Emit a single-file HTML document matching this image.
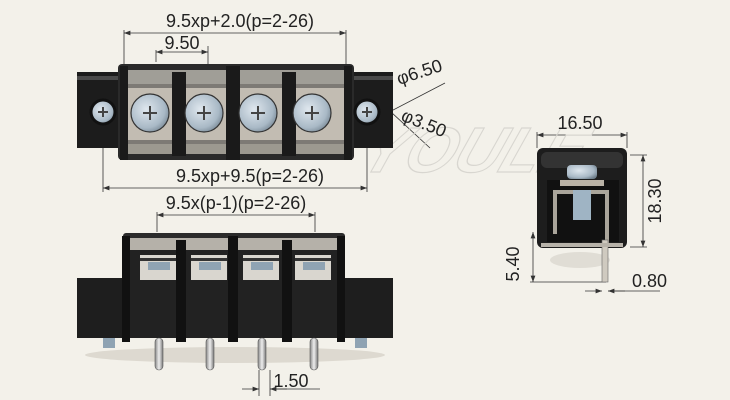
<!DOCTYPE html>
<html><head><meta charset="utf-8"><style>
html,body{margin:0;padding:0;background:#f3f1ea;}
svg{display:block;font-family:"Liberation Sans",sans-serif;}
</style></head><body>
<svg width="730" height="400" viewBox="0 0 730 400" xmlns="http://www.w3.org/2000/svg">
<defs>
<marker id="a" markerWidth="8" markerHeight="6" refX="8" refY="3" orient="auto-start-reverse"><path d="M0,0 L8,3 L0,6 Z" fill="#333"/></marker>
<radialGradient id="sc" cx="0.4" cy="0.4" r="0.7"><stop offset="0" stop-color="#dfe7ee"/><stop offset="0.7" stop-color="#a9b9c6"/><stop offset="1" stop-color="#6f7f8c"/></radialGradient>
<linearGradient id="pin" x1="0" x2="1"><stop offset="0" stop-color="#888"/><stop offset="0.5" stop-color="#eee"/><stop offset="1" stop-color="#777"/></linearGradient>
</defs>
<rect width="730" height="400" fill="#f3f1ea"/>
<g stroke="#333" stroke-width="0.8" fill="none">
<!-- top view dims -->
<line x1="124" y1="33" x2="346" y2="33" marker-start="url(#a)" marker-end="url(#a)"/>
<line x1="124" y1="30" x2="124" y2="64"/><line x1="346" y1="30" x2="346" y2="64"/>
<line x1="156" y1="52" x2="208" y2="52" marker-start="url(#a)" marker-end="url(#a)"/>
<line x1="156" y1="50" x2="156" y2="62"/><line x1="208" y1="46" x2="208" y2="64"/>
<line x1="103" y1="188" x2="367" y2="188" marker-start="url(#a)" marker-end="url(#a)"/>
<line x1="103" y1="130" x2="103" y2="192"/><line x1="367" y1="130" x2="367" y2="192"/>
<line x1="370" y1="122" x2="445" y2="83"/>
<line x1="378" y1="100" x2="430" y2="148"/>
<!-- front dims -->
<line x1="157" y1="215" x2="315" y2="215" marker-start="url(#a)" marker-end="url(#a)"/>
<line x1="157" y1="212" x2="157" y2="232"/><line x1="315" y1="212" x2="315" y2="232"/>
<line x1="242" y1="389" x2="259" y2="389" marker-end="url(#a)"/>
<line x1="287" y1="389" x2="270" y2="389" marker-end="url(#a)"/>
<line x1="259" y1="370" x2="259" y2="396"/><line x1="270" y1="370" x2="270" y2="396"/>
<line x1="270" y1="389" x2="320" y2="389"/>
<!-- side dims -->
<line x1="537" y1="135" x2="627" y2="135" marker-start="url(#a)" marker-end="url(#a)"/>
<line x1="537" y1="132" x2="537" y2="148"/><line x1="627" y1="132" x2="627" y2="148"/>
<line x1="643" y1="155" x2="643" y2="247" marker-start="url(#a)" marker-end="url(#a)"/>
<line x1="630" y1="155" x2="647" y2="155"/><line x1="630" y1="247" x2="647" y2="247"/>
<line x1="533" y1="232" x2="533" y2="282" marker-start="url(#a)" marker-end="url(#a)"/>
<line x1="530" y1="282" x2="606" y2="282"/>
<line x1="585" y1="291" x2="602" y2="291" marker-end="url(#a)"/>
<line x1="625" y1="291" x2="608" y2="291" marker-end="url(#a)"/>
<line x1="608" y1="291" x2="660" y2="291"/>
</g>
<!-- watermark -->
<text x="360" y="172" font-size="64" font-style="italic" font-weight="bold" fill="none" stroke="#d8d6d0" stroke-width="1.2" transform="skewX(-20) translate(60,0)">YOULE</text>
<!-- TOP VIEW -->
<g>
<rect x="77" y="72" width="316" height="76" fill="#1c1c1c"/>
<rect x="77" y="76" width="316" height="4" fill="#777" opacity="0.5"/>
<rect x="118" y="64" width="236" height="96" rx="4" fill="#2a2a2a"/>
<rect x="125" y="70" width="222" height="84" fill="#7d7a75"/>
<rect x="128" y="88" width="216" height="52" fill="#c2bcb2"/>
<rect x="125" y="70" width="222" height="14" fill="#b8b5ae" opacity="0.6"/>
<rect x="125" y="144" width="222" height="10" fill="#9c9990"/>
<g fill="#1a1a1a">
<rect x="172" y="72" width="14" height="84"/><rect x="226" y="66" width="14" height="94"/><rect x="282" y="72" width="14" height="84"/>
<rect x="120" y="66" width="8" height="94"/><rect x="344" y="66" width="8" height="94"/>
</g>
<g stroke="#333" stroke-width="1.2">
<circle cx="150" cy="113" r="19" fill="url(#sc)"/><circle cx="204" cy="113" r="19" fill="url(#sc)"/>
<circle cx="258" cy="113" r="19" fill="url(#sc)"/><circle cx="312" cy="113" r="19" fill="url(#sc)"/>
<circle cx="103" cy="112" r="12" fill="url(#sc)" stroke="#111" stroke-width="3"/>
<circle cx="367" cy="112" r="12" fill="url(#sc)" stroke="#111" stroke-width="3"/>
</g>
<g stroke="#444" stroke-width="2">
<path d="M143,113h14M150,106v14M197,113h14M204,106v14M251,113h14M258,106v14M305,113h14M312,106v14M98,112h10M103,107v10M362,112h10M367,107v10"/>
</g>
</g>
<!-- FRONT VIEW -->
<g>
<ellipse cx="235" cy="355" rx="150" ry="8" fill="#ddd9d0"/>
<rect x="123" y="233" width="222" height="12" rx="3" fill="#2b2b2b"/>
<rect x="128" y="238" width="212" height="18" fill="#b5b1a9"/>
<rect x="77" y="278" width="316" height="60" fill="#1e1e1e"/>
<rect x="123" y="250" width="222" height="88" fill="#222"/>
<g fill="#d9d6cf"><rect x="140" y="255" width="36" height="25"/><rect x="191" y="255" width="36" height="25"/><rect x="243" y="255" width="36" height="25"/><rect x="295" y="255" width="36" height="25"/></g>
<g fill="#8fa3b3"><rect x="148" y="262" width="22" height="8"/><rect x="199" y="262" width="22" height="8"/><rect x="251" y="262" width="22" height="8"/><rect x="303" y="262" width="22" height="8"/></g>
<g fill="#333"><rect x="140" y="258" width="36" height="3"/><rect x="191" y="258" width="36" height="3"/><rect x="243" y="258" width="36" height="3"/><rect x="295" y="258" width="36" height="3"/></g>
<g fill="#111"><rect x="122" y="236" width="8" height="106"/><rect x="176" y="240" width="10" height="102"/><rect x="228" y="236" width="10" height="106"/><rect x="282" y="240" width="10" height="102"/><rect x="337" y="236" width="8" height="106"/></g>
<g fill="url(#pin)" stroke="#555" stroke-width="0.6"><rect x="155" y="338" width="8" height="32" rx="4"/><rect x="206" y="338" width="8" height="32" rx="4"/><rect x="258" y="338" width="8" height="32" rx="4"/><rect x="310" y="338" width="8" height="32" rx="4"/></g>
<g fill="#8fa3b3"><rect x="103" y="338" width="12" height="10"/><rect x="355" y="338" width="12" height="10"/></g>
</g>
<!-- SIDE VIEW -->
<g>
<ellipse cx="580" cy="260" rx="30" ry="8" fill="#e0ddd5"/>
<rect x="537" y="148" width="90" height="100" rx="6" fill="#1d1d1d"/>
<rect x="541" y="152" width="82" height="16" rx="6" fill="#333"/>
<rect x="547" y="180" width="72" height="62" fill="#111"/>
<rect x="567" y="165" width="30" height="14" rx="4" fill="url(#sc)"/>
<rect x="560" y="180" width="44" height="6" fill="#b9b2a6"/>
<path d="M553,190 h56 v55 h-4 v-51 h-48 v40 h-4z" fill="#aaa59b"/>
<rect x="573" y="190" width="18" height="30" fill="#9fb4c4"/>
<rect x="602" y="240" width="6" height="42" fill="#cfcac0" stroke="#666" stroke-width="0.6"/>
<rect x="541" y="243" width="82" height="4" fill="#b7b2a9"/>
</g>
<!-- TEXT -->
<g fill="#222" font-size="18">
<text x="240" y="27" text-anchor="middle">9.5xp+2.0(p=2-26)</text>
<text x="182" y="49" text-anchor="middle">9.50</text>
<text x="250" y="182" text-anchor="middle">9.5xp+9.5(p=2-26)</text>
<text x="236" y="209" text-anchor="middle">9.5x(p-1)(p=2-26)</text>
<text x="291" y="387" text-anchor="middle">1.50</text>
<text x="580" y="129" text-anchor="middle">16.50</text>
<text x="632" y="287" text-anchor="start">0.80</text>
<text transform="translate(399,85) rotate(-18)">φ6.50</text>
<text transform="translate(400,120) rotate(22)">φ3.50</text>
<text transform="translate(661,201) rotate(-90)" text-anchor="middle">18.30</text>
<text transform="translate(519,264) rotate(-90)" text-anchor="middle">5.40</text>
</g>
</svg>
</body></html>
